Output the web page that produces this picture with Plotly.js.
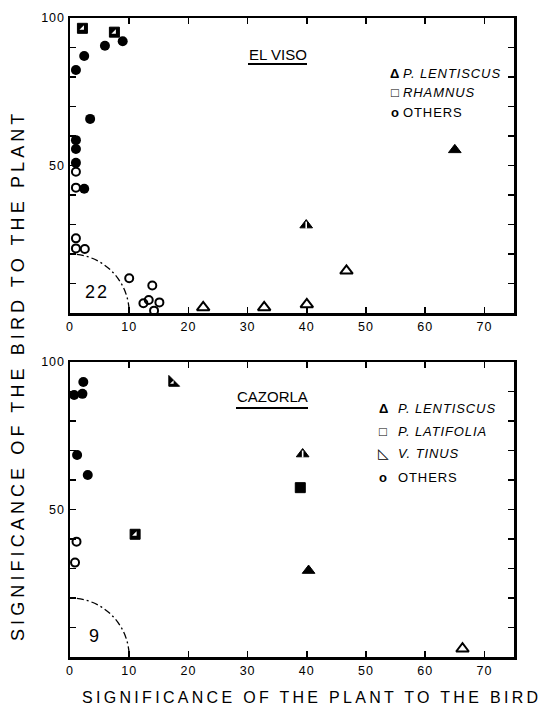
<!DOCTYPE html>
<html><head><meta charset="utf-8">
<script src="https://cdn.plot.ly/plotly-3.0.1.min.js"></script>
<style>
html,body{margin:0;padding:0;background:#fff;}
#chart{width:543px;height:706px;}
.xaxislayer-above text, .yaxislayer-above text {letter-spacing:1px;}
</style>
</head><body><div id="chart"></div>
<script>
// ---- EL VISO (top panel) ----
const viso_filledCircle_x = [8.9, 5.9, 2.4, 1.0, 3.4, 1.0, 1.0, 1.0, 2.4];
const viso_filledCircle_y = [92.1, 90.6, 87.1, 82.4, 65.8, 58.6, 55.6, 50.9, 42.1];
const viso_openCircle_x = [1.0, 1.0, 1.0, 1.0, 2.5, 10.0, 13.9, 13.3, 12.4, 15.1, 14.2];
const viso_openCircle_y = [47.9, 42.5, 25.3, 21.9, 21.7, 11.8, 9.3, 4.4, 3.3, 3.6, 0.8];
const viso_openTri_x = [22.5, 32.8, 40.0, 46.7];
const viso_openTri_y = [1.9, 1.9, 2.9, 14.3];
const viso_halfTri_x = [39.9];
const viso_halfTri_y = [29.8];
const viso_filledTri_x = [65.0];
const viso_filledTri_y = [55.3];
const viso_halfSquare_x = [2.1, 7.5];
const viso_halfSquare_y = [96.5, 95.2];

// ---- CAZORLA (bottom panel) ----
const caz_filledCircle_x = [2.25, 0.7, 2.1, 1.2, 3.0];
const caz_filledCircle_y = [93.2, 88.8, 89.2, 68.5, 61.7];
const caz_openCircle_x = [1.1, 0.85];
const caz_openCircle_y = [39.1, 32.0];
const caz_halfSquare_x = [11.0];
const caz_halfSquare_y = [41.6];
const caz_halfTinus_x = [17.3];
const caz_halfTinus_y = [93.0];
const caz_halfTri_x = [39.3];
const caz_halfTri_y = [68.8];
const caz_filledSquare_x = [38.9];
const caz_filledSquare_y = [57.4];
const caz_filledTri_x = [40.3];
const caz_filledTri_y = [29.3];
const caz_openTri_x = [66.3];
const caz_openTri_y = [2.8];

// ---- ticks / labels ----
const xTickVals = [0, 10, 20, 30, 40, 50, 60, 70];
const yTickVals = [0, 10, 20, 30, 40, 50, 60, 70, 80, 90, 100];
const yTickText = ['', '', '', '', '', '50', '', '', '', '', '100'];
const yRightVals = [50, 100];
const yRightText = ['50', '100'];
const threshold_viso = '22';
const threshold_caz = '9';

function tr(x, y, xa, ya, marker) {
  return {x: x, y: y, xaxis: xa, yaxis: ya, type: 'scatter', mode: 'markers',
          cliponaxis: false, hoverinfo: 'skip', marker: marker};
}
const BLK = '#000', WHT = '#fff';
const mFilledCircle = {symbol: 'circle', size: 10, color: BLK};
const mOpenCircle = {symbol: 'circle-open', size: 8, color: BLK, line: {width: 2, color: BLK}};
const mOpenTri = {symbol: 'triangle-up-open', size: 11, color: BLK, line: {width: 2, color: BLK}};
const mFilledTri = {symbol: 'triangle-up', size: 11, color: BLK, line: {width: 1, color: BLK}};
const mTriSliver = {symbol: 'line-ns', size: 5, color: WHT, line: {width: 1.6, color: WHT}};
const mSquare = {symbol: 'square', size: 10, color: BLK, line: {width: 1, color: BLK}};
const mSquareNotch = {symbol: 'triangle-se', size: 5, color: WHT, line: {width: 0}};
const mTinus = {symbol: 'triangle-sw', size: 12, color: BLK, line: {width: 1, color: BLK}};
const mTinusNotch = {symbol: 'triangle-se', size: 4, color: WHT, line: {width: 0}};

const data = [
  tr(viso_filledCircle_x, viso_filledCircle_y, 'x', 'y', mFilledCircle),
  tr(viso_openCircle_x, viso_openCircle_y, 'x', 'y', mOpenCircle),
  tr(viso_openTri_x, viso_openTri_y, 'x', 'y', mOpenTri),
  tr(viso_halfTri_x, viso_halfTri_y, 'x', 'y', mFilledTri),
  tr(viso_halfTri_x, viso_halfTri_y, 'x', 'y', mTriSliver),
  tr(viso_filledTri_x, viso_filledTri_y, 'x', 'y', mFilledTri),
  tr(viso_halfSquare_x, viso_halfSquare_y, 'x', 'y', mSquare),
  tr(viso_halfSquare_x, viso_halfSquare_y, 'x', 'y', mSquareNotch),

  tr(caz_filledCircle_x, caz_filledCircle_y, 'x2', 'y2', mFilledCircle),
  tr(caz_openCircle_x, caz_openCircle_y, 'x2', 'y2', mOpenCircle),
  tr(caz_halfSquare_x, caz_halfSquare_y, 'x2', 'y2', mSquare),
  tr(caz_halfSquare_x, caz_halfSquare_y, 'x2', 'y2', mSquareNotch),
  tr(caz_halfTinus_x, caz_halfTinus_y, 'x2', 'y2', mTinus),
  tr(caz_halfTinus_x, caz_halfTinus_y, 'x2', 'y2', mTinusNotch),
  tr(caz_halfTri_x, caz_halfTri_y, 'x2', 'y2', mFilledTri),
  tr(caz_halfTri_x, caz_halfTri_y, 'x2', 'y2', mTriSliver),
  tr(caz_filledSquare_x, caz_filledSquare_y, 'x2', 'y2', mSquare),
  tr(caz_filledTri_x, caz_filledTri_y, 'x2', 'y2', mFilledTri),
  tr(caz_openTri_x, caz_openTri_y, 'x2', 'y2', mOpenTri)
];

const FONT = 'Liberation Sans, Arial, Helvetica, sans-serif';
function xax(anchor) {
  return {anchor: anchor, range: [0, 75], tickvals: xTickVals, ticks: 'inside', ticklen: 6,
          tickwidth: 1.5, tickcolor: BLK, showline: true, linewidth: 2.5, linecolor: BLK,
          mirror: 'ticks', showgrid: false, zeroline: false, fixedrange: true,
          tickfont: {size: 12.5, family: FONT, color: BLK}};
}
function yax(anchor, domain) {
  return {anchor: anchor, domain: domain, range: [0, 100], tickvals: yTickVals, ticktext: yTickText,
          ticks: 'inside', ticklen: 6, tickwidth: 1.5, tickcolor: BLK, showline: true, linewidth: 2.5,
          linecolor: BLK, mirror: 'ticks', showgrid: false, zeroline: false, fixedrange: true,
          tickfont: {size: 12.5, family: FONT, color: BLK}};
}
function yRight(over, anchor) {
  return {overlaying: over, anchor: anchor, side: 'right', range: [0, 100], tickvals: yRightVals,
          ticktext: yRightText, ticks: '', showline: false, showgrid: false, zeroline: false,
          fixedrange: true, tickfont: {size: 12.5, family: FONT, color: BLK}};
}

// pixel helpers for paper placement (plot area: left 70, width 444; bottom 657, height 639)
const px = v => (v - 70) / 444;
const py = v => (657 - v) / 639;

function ann(text, x, y, opts) {
  return Object.assign({text: text, x: x, y: y, xref: 'paper', yref: 'paper', showarrow: false,
    xanchor: 'left', yanchor: 'middle', font: {family: FONT, size: 13, color: BLK}}, opts || {});
}

const annotations = [
  ann('EL VISO', px(277.5), py(54.5), {xanchor: 'center', font: {family: FONT, size: 15, color: BLK}}),
  ann('CAZORLA', px(272), py(396.5), {xanchor: 'center', font: {family: FONT, size: 15, color: BLK}}),
  // top legend
  ann('<b>Δ</b>', px(394.5), py(73.3), {xanchor: 'center'}),
  ann('<span style="letter-spacing:0.9px"><i>P. LENTISCUS</i></span>', px(400.5), py(73.3)),
  ann('□', px(394.5), py(92), {xanchor: 'center'}),
  ann('<span style="letter-spacing:0.9px"><i>RHAMNUS</i></span>', px(400.5), py(92)),
  ann('<b>o</b>', px(394.5), py(112), {xanchor: 'center'}),
  ann('<span style="letter-spacing:0.9px">OTHERS</span>', px(400.5), py(112)),
  // bottom legend
  ann('<b>Δ</b>', px(383), py(408.3), {xanchor: 'center'}),
  ann('<span style="letter-spacing:0.9px"><i>P. LENTISCUS</i></span>', px(396), py(408.3)),
  ann('□', px(383), py(431.7), {xanchor: 'center'}),
  ann('<span style="letter-spacing:0.9px"><i>P. LATIFOLIA</i></span>', px(396), py(431.7)),
  ann('◺', px(383), py(453.3), {xanchor: 'center', font: {family: 'DejaVu Sans', size: 14, color: BLK}}),
  ann('<span style="letter-spacing:0.9px"><i>V. TINUS</i></span>', px(396), py(453.3)),
  ann('<b>o</b>', px(383), py(477.3), {xanchor: 'center'}),
  ann('<span style="letter-spacing:0.9px">OTHERS</span>', px(396), py(477.3)),
  // threshold labels
  {text: '<span style="letter-spacing:2px">' + threshold_viso + '</span>', x: 4.5, y: 7.2, xref: 'x', yref: 'y',
   showarrow: false, font: {family: FONT, size: 18, color: BLK}},
  {text: threshold_caz, x: 4.1, y: 7.1, xref: 'x2', yref: 'y2',
   showarrow: false, font: {family: FONT, size: 18, color: BLK}},
  // axis titles
  ann('<span style="letter-spacing:3.3px">SIGNIFICANCE OF THE PLANT TO THE BIRD</span>', px(311), py(697),
      {xanchor: 'center', font: {family: FONT, size: 16, color: BLK}}),
  ann('<span style="letter-spacing:4.1px">SIGNIFICANCE OF THE BIRD TO THE PLANT</span>', px(18), py(376),
      {xanchor: 'center', textangle: -90, font: {family: FONT, size: 18, color: BLK}})
];

const arcLine = {color: BLK, width: 1.3, dash: '7px,3px,2px,3px'};
const shapes = [
  {type: 'circle', xref: 'x', yref: 'y', x0: -10, x1: 10, y0: -20, y1: 20, line: arcLine},
  {type: 'circle', xref: 'x2', yref: 'y2', x0: -10, x1: 10, y0: -20, y1: 20, line: arcLine},
  {type: 'line', xref: 'paper', yref: 'paper', x0: px(248), x1: px(307), y0: py(64), y1: py(64),
   line: {color: BLK, width: 2}},
  {type: 'line', xref: 'paper', yref: 'paper', x0: px(236), x1: px(308), y0: py(408), y1: py(408),
   line: {color: BLK, width: 2}}
];

const layout = {
  width: 543, height: 706,
  margin: {l: 70, r: 29, t: 18, b: 49, pad: 0},
  paper_bgcolor: '#fff', plot_bgcolor: '#fff',
  showlegend: false,
  font: {family: FONT, color: BLK, size: 13},
  xaxis: xax('y'),
  yaxis: yax('x', [1 - 295 / 639, 1]),
  xaxis2: xax('y2'),
  yaxis2: yax('x2', [0, 1 - 344 / 639]),
  yaxis3: yRight('y', 'x'),
  yaxis4: yRight('y2', 'x2'),
  annotations: annotations,
  shapes: shapes
};

Plotly.newPlot('chart', data, layout, {displayModeBar: false, staticPlot: true});
</script>
</body></html>
